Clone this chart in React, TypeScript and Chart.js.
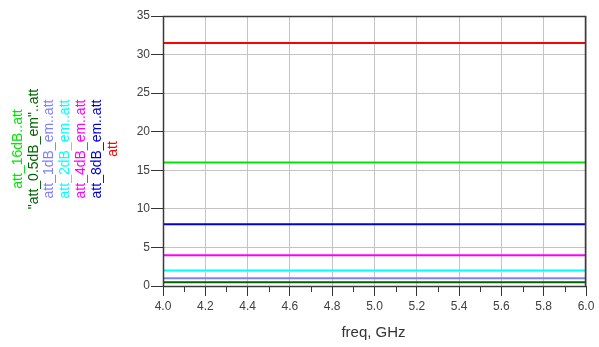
import React, { useEffect, useRef } from "react";
import { Chart, registerables } from "chart.js";

Chart.register(...registerables);

const freqs = [4.0, 6.0];
const seriesNames = [
  "att_16dB..att",
  "\"att_0.5dB_em\"..att",
  "att_1dB_em..att",
  "att_2dB_em..att",
  "att_4dB_em..att",
  "att_8dB_em..att",
  "att",
];
const seriesColors = ["#00e600", "#006400", "#8080ff", "#00ffff", "#ff00ff", "#0000dd", "#ff0000"];
const att16 = [16, 16];
const att05 = [0.5, 0.5];
const att1 = [1, 1];
const att2 = [2, 2];
const att4 = [4, 4];
const att8 = [8, 8];
const att = [31.5, 31.5];
const seriesValues = [att16, att05, att1, att2, att4, att8, att];
const xTitle = "freq, GHz";

export default function App() {
  const ref = useRef<HTMLCanvasElement | null>(null);
  useEffect(() => {
    document.body.style.margin = "0";
    const canvas = ref.current!;
    const extras = {
      id: "extras",
      afterDraw(chart: any) {
        const { ctx, chartArea } = chart;
        const xs = chart.scales.x;
        ctx.save();
        // box border
        ctx.strokeStyle = "#3a3a3a";
        ctx.lineWidth = 1.5;
        ctx.strokeRect(chartArea.left + 0.5, chartArea.top + 0.5, chartArea.right - chartArea.left - 1, chartArea.bottom - chartArea.top);
        // minor ticks
        ctx.lineWidth = 1;
        const t = xs.ticks;
        ctx.beginPath();
        for (let i = 0; i < t.length - 1; i++) {
          const mid = (t[i].value + t[i + 1].value) / 2;
          const px = Math.round(xs.getPixelForValue(mid)) + 0.5;
          ctx.moveTo(px, chartArea.bottom);
          ctx.lineTo(px, chartArea.bottom + 6);
        }
        ctx.stroke();
        // x title
        ctx.fillStyle = "#333";
        ctx.font = "15px 'Liberation Sans', Arial, sans-serif";
        ctx.textAlign = "center";
        ctx.textBaseline = "middle";
        ctx.fillText(xTitle, (chartArea.left + chartArea.right) / 2 - 1, 333);
        // rotated legend
        ctx.font = "14px 'Liberation Sans', Arial, sans-serif";
        const cy = (chartArea.top + chartArea.bottom) / 2 - 2;
        seriesNames.forEach((name, i) => {
          ctx.save();
          ctx.translate(18 + i * 15.8, cy);
          ctx.rotate(-Math.PI / 2);
          ctx.fillStyle = seriesColors[i];
          ctx.textAlign = "center";
          ctx.textBaseline = "middle";
          ctx.fillText(name, 0, 0);
          ctx.restore();
        });
        ctx.restore();
      },
    };
    const chart = new Chart(canvas, {
      type: "line",
      data: {
        datasets: seriesValues.map((vals, i) => ({
          label: seriesNames[i],
          data: freqs.map((f, j) => ({ x: f, y: vals[j] })),
          borderColor: seriesColors[i],
          backgroundColor: seriesColors[i],
          borderWidth: 2,
          pointRadius: 0,
          tension: 0,
        })),
      },
      options: {
        responsive: false,
        animation: false,
        devicePixelRatio: 1,
        layout: { padding: { top: 16, right: 13, left: 0, bottom: 0 } },
        plugins: { legend: { display: false }, tooltip: { enabled: false } },
        scales: {
          x: {
            type: "linear",
            min: 4,
            max: 6,
            afterFit: (s: any) => { s.height = 61; },
            ticks: {
              stepSize: 0.2,
              padding: 3,
              color: "#404040",
              font: { size: 12, family: "'Liberation Sans', Arial, sans-serif" },
              callback: (v: any) => Number(v).toFixed(1),
              maxRotation: 0,
            },
            grid: { color: "#c4c4c4", tickColor: "#333", tickLength: 10, lineWidth: 1 },
            border: { display: false },
          },
          y: {
            min: 0,
            max: 35,
            afterFit: (s: any) => { s.width = 163; },
            ticks: {
              stepSize: 5,
              padding: 1,
              color: "#404040",
              font: { size: 12, family: "'Liberation Sans', Arial, sans-serif" },
            },
            grid: { color: "#c4c4c4", tickColor: "#333", tickLength: 12, lineWidth: 1 },
            border: { display: false },
          },
        },
      },
      plugins: [extras],
    });
    return () => chart.destroy();
  }, []);
  return (
    <div style={{ position: "absolute", left: 0, top: 0, width: 599, height: 347 }}>
      <canvas ref={ref} width={599} height={347} />
    </div>
  );
}
